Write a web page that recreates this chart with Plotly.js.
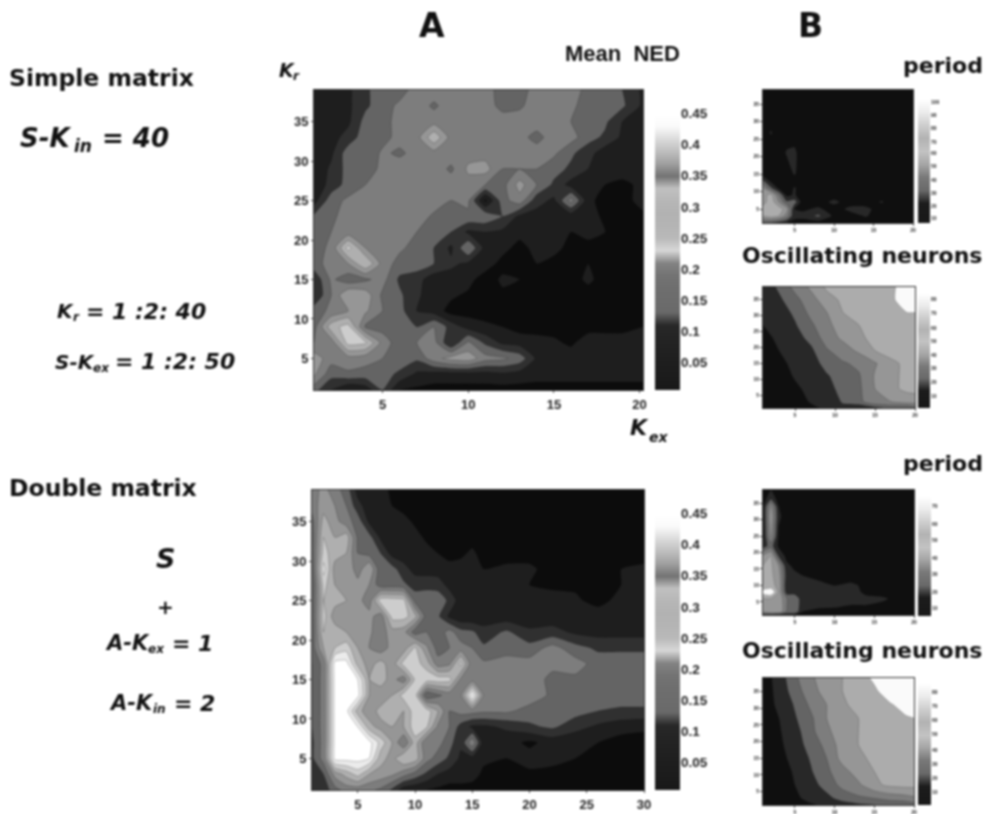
<!DOCTYPE html>
<html><head><meta charset="utf-8">
<script src="https://cdn.plot.ly/plotly-3.0.1.min.js"></script>
<style>html,body{margin:0;padding:0;background:#fff}#g{width:991px;height:814px;filter:blur(0.9px)}</style>
</head><body><div id="g"></div>
<script>
// ---------- data (values in hundredths for NED, percent-like for panel B) ----------
const simpleX=[1,2,3,4,5,6,7,8,9,10,11,12,13,14,15,16,17,18,19,20.2];
const rowsY=[39,37,35,33,31,29,27,25,23,21,19,17,15,13,11,9,7,5,3,1];
const simpleNed=[
[6,9,9,14,18,18,22,23,23,23,23,17,17,23,23,23,18,18,15,9],
[6,8,9,14,18,21,23,19,23,23,23,18,19,23,23,21,18,17,16,9],
[6,8,9,17,18,22,23,23,23,23,23,23,23,23,24,20,17,16,10,8],
[6,8,12,18,18,22,23,34,23,23,23,23,22,18,23,22,17,14,9,8],
[6,9,18,16,21,19,22,23,23,23,23,23,23,23,21,16,12,7,7,7],
[6,11,17,18,21,23,20,23,19,26,27,20,20,20,17,14,10,8,7,7],
[6,12,17,20,22,24,23,23,23,23,20,18,27,20,14,8,7,5,4,6],
[8,18,21,23,23,23,23,23,20,21,4,18,23,12,9,22,7,2,3,7],
[16,19,22,23,23,23,23,19,19,19,19,15,9,8,7,7,7,4,4,4],
[17,20,22,23,23,23,20,19,15,9,10,9,7,7,6,5,6,5,4,3],
[18,21,37,25,23,21,18,15,9,20,8,7,3,7,6,4,4,3,3,3],
[18,22,25,35,23,18,18,15,11,9,8,3,4,5,4,3,5,3,3,3],
[11,21,17,19,22,14,12,7,8,7,2,6,5,3,3,3,6,3,3,3],
[10,20,30,28,19,16,11,7,6,4,5,4,3,3,3,3,3,3,3,3],
[18,21,25,26,20,17,10,8,3,3,3,3,3,3,3,3,3,3,3,3],
[18,33,37,19,18,17,15,20,13,8,6,5,3,3,3,3,3,3,3,5],
[20,22,37,36,23,17,20,22,10,21,14,9,8,7,6,4,8,8,8,9],
[28,22,23,22,20,18,16,23,27,28,22,21,18,9,9,8,8,8,6,8],
[26,17,19,18,17,14,9,8,8,8,8,9,8,7,7,7,7,7,7,7],
[17,10,5,7,15,5,4,3,3,3,3,3,3,3,3,3,3,3,3,3]];

const doubleX=[1,2,3,4,5,6,7,8,9,10,11,12,13,14,15,16,18,20,22,24,26,28,30];
const doubleNed=[
[22,27,22,18,8,7,7,4,3,3,3,3,3,3,3,3,3,3,3,3,3,3,3],
[22,28,25,20,12,7,6,5,3,3,3,3,3,3,3,3,3,3,3,3,3,3,3],
[18,32,27,22,18,9,7,7,7,4,4,3,3,3,3,3,3,3,3,3,3,3,3],
[17,35,30,33,19,17,9,7,7,7,4,3,3,3,3,3,3,3,3,3,3,3,3],
[17,37,32,30,20,18,15,8,7,7,7,5,3,4,6,3,3,3,3,3,4,3,3],
[16,42,28,30,22,30,16,17,12,8,7,7,7,7,7,5,6,6,3,3,5,5,6],
[15,37,30,28,27,25,17,17,16,13,14,13,8,7,7,7,6,5,4,4,4,5,7],
[16,35,32,30,27,22,38,38,37,18,17,18,14,7,7,7,7,7,7,6,3,7,8],
[16,37,27,30,28,27,22,37,37,32,17,16,9,6,6,7,7,7,7,7,8,8,8],
[16,35,33,30,28,26,22,28,27,17,20,17,22,17,16,12,16,11,12,9,8,8,8],
[17,30,35,38,30,25,22,27,27,36,26,18,20,22,20,16,18,17,22,17,14,14,14],
[15,22,47,47,33,28,32,27,37,37,33,22,24,37,21,21,22,22,22,22,18,18,18],
[15,22,47,47,45,30,33,27,22,36,38,38,37,24,22,21,24,24,18,19,19,18,18],
[15,22,47,47,47,30,26,30,37,38,15,19,22,24,46,24,24,23,19,19,18,18,18],
[15,22,47,47,32,27,32,32,30,38,38,30,20,22,22,21,21,18,18,17,15,14,14],
[15,22,47,47,45,32,28,30,30,38,36,24,20,13,9,9,11,14,16,12,9,7,6],
[14,22,47,47,47,47,38,30,20,33,20,22,17,11,24,7,7,4,7,6,5,3,3],
[14,22,47,47,47,45,32,28,35,33,22,18,14,9,8,6,5,7,7,5,5,4,3],
[12,15,27,32,37,30,28,26,22,18,14,10,8,8,7,4,3,4,3,3,3,3,3],
[10,12,18,22,22,21,19,14,7,6,5,4,3,3,3,3,3,3,3,3,3,3,3]];

const periodX=[1,2,3,4,5,6,8,10,12,14,16,18,20];
const simplePeriodY=[39,34,29,27,21,15,13,11,9,7,5,3,1];
const simplePeriod=[
[5,5,5,5,5,5,5,5,5,5,5,5,5],
[5,5,5,5,5,5,5,5,5,5,5,5,5],
[5,5,5,5,5,5,5,5,5,5,5,5,5],
[5,11,5,5,5,5,5,5,5,5,5,5,5],
[5,5,5,11,12,5,5,5,5,5,5,5,5],
[5,5,5,5,11,5,5,5,5,5,5,5,5],
[22,8,5,5,5,5,5,5,5,5,5,5,5],
[40,22,8,5,11,5,5,5,5,5,5,5,5],
[45,55,30,8,11,5,5,5,5,5,5,5,5],
[45,57,40,22,25,5,5,13,5,5,11,5,5],
[55,58,56,45,10,8,12,5,13,13,5,5,5],
[50,55,50,35,12,14,22,8,5,11,5,5,5],
[20,20,15,10,8,5,5,5,5,5,5,5,5]];

const oscX=[1,3,5,7,9,11,13,15,17,19,20];
const oscY=[39,35,31,27,23,19,15,11,7,3,1];
const simpleOsc=[
[13,22,33,42,52,55,55,56,58,65,68],
[12,18,27,36,46,52,55,56,58,66,68],
[11,15,22,33,40,50,54,56,58,60,60],
[10,13,19,28,38,44,50,54,57,58,58],
[7,12,16,23,35,42,48,53,56,57,58],
[4,10,14,18,29,35,42,50,55,57,58],
[3,7,13,15,24,29,32,39,47,53,56],
[3,5,11,14,19,25,29,41,46,54,55],
[3,3,8,13,16,24,28,40,48,52,53],
[3,3,5,11,14,21,27,38,40,45,45],
[3,3,3,8,12,18,12,18,22,20,25]];

const doublePeriodY=[39,37,34,31,28,25,22,19,16,13,10,8,6,4,2,1];
const doublePeriod=[
[8,10,7,5,5,5,5,5,5,5,5,5,5],
[8,12,8,5,5,5,5,5,5,5,5,5,5],
[8,42,10,5,5,5,5,5,5,5,5,5,5],
[8,48,12,5,5,5,5,5,5,5,5,5,5],
[8,45,10,5,5,5,5,5,5,5,5,5,5],
[8,42,8,5,5,5,5,5,5,5,5,5,5],
[15,25,8,5,5,5,5,5,5,5,5,5,5],
[42,50,18,7,5,5,5,5,5,5,5,5,5],
[50,52,40,12,8,5,5,5,5,5,5,5,5],
[50,52,45,15,12,10,8,5,5,5,5,5,5],
[50,52,48,12,12,12,12,10,12,8,5,5,5],
[65,70,48,14,14,12,12,12,14,8,5,5,5],
[50,50,48,30,30,12,12,12,13,12,12,7,5],
[50,50,50,30,30,12,12,12,10,10,8,5,5],
[42,50,50,28,28,10,8,7,5,5,5,5,5],
[15,15,12,10,10,7,5,5,5,5,5,5,5]];

const doubleOsc=[
[5,14,28,38,46,50,55,62,68,68,68],
[5,13,25,36,44,50,55,58,66,68,68],
[5,12,21,32,40,48,54,58,59,64,68],
[5,10,19,28,40,45,50,55,58,59,60],
[5,9,16,27,38,45,50,54,57,58,58],
[4,8,15,24,33,45,50,53,55,56,57],
[4,7,13,21,30,44,48,52,55,56,57],
[4,6,11,19,28,36,45,50,54,55,56],
[3,5,10,16,24,33,38,48,52,53,53],
[3,4,8,13,17,24,28,30,34,36,38],
[3,3,6,9,12,15,18,20,22,22,25]];

const nedBands=[12,30,48,100,125,150,175,205,235,255];
const sideBands=[15,40,100,125,150,172,250];
const nedBarValues=[.01,.03,.05,.07,.09,.11,.13,.15,.17,.19,.21,.23,.25,.27,.29,.31,.33,.35,.37,.39,.41,.43,.45,.47,.49];
const nedBarShades=[25,28,30,33,36,40,105,108,110,115,130,215,185,180,178,182,192,115,160,190,220,250,255,255,255];
const sideBarValues=[5,15,25,35,45,55,65,75,85,95];
const sideBarShades=[25,28,105,120,165,195,178,205,235,255];
const nedTicks=[.05,.1,.15,.2,.25,.3,.35,.4,.45];
const nedTickText=['0.05','0.1','0.15','0.2','0.25','0.3','0.35','0.4','0.45'];
const axisTicks=[5,10,15,20,25,30,35];

// ---------- helpers ----------
const FONT='"Liberation Sans",Arial,sans-serif';
const WIDE='"DejaVu Sans",Verdana,sans-serif';
const W=991,H=814;
const dx=(a,b)=>[a/W,b/W], dy=(t,b)=>[1-b/H,1-t/H];
const grey=v=>`rgb(${v},${v},${v})`;
const bandScale=b=>b.map((v,i)=>[i/(b.length-1),grey(v)]);
const pct=m=>m.map(r=>r.map(v=>v/100));

const traces=[],layout={width:W,height:H,margin:{l:0,r:0,t:0,b:0},paper_bgcolor:'#fff',plot_bgcolor:'#fff',showlegend:false,annotations:[]};
let n=0;
function contour(x,y,z,box,start,size,end,bands,xr,yr,xt,yt,fs,lw){
  n++;const s=n===1?'':n;
  traces.push({type:'contour',x:x,y:y,z:z,xaxis:'x'+s,yaxis:'y'+s,showscale:false,hoverinfo:'skip',
    autocontour:false,contours:{start:start,size:size,end:end,coloring:'fill',showlines:true},
    colorscale:bandScale(bands),line:{color:'rgba(15,15,15,0.4)',width:lw,smoothing:0.5}});
  const tf={family:FONT,size:fs,color:'#222',weight:'bold'};
  layout['xaxis'+s]={domain:dx(box[0],box[1]),range:xr,anchor:'y'+s,tickvals:xt,ticks:'outside',ticklen:2,tickwidth:1,tickcolor:'#444',tickfont:tf,showgrid:false,zeroline:false,showline:true,linecolor:'#333',linewidth:1,mirror:true,automargin:false};
  layout['yaxis'+s]={domain:dy(box[2],box[3]),range:yr,anchor:'x'+s,tickvals:yt,ticks:'outside',ticklen:2,tickwidth:1,tickcolor:'#444',tickfont:tf,showgrid:false,zeroline:false,showline:true,linecolor:'#333',linewidth:1,mirror:true,automargin:false};
}
function bar(vals,shades,box,yr,tv,tt,fs){
  n++;const s=n===1?'':n;
  traces.push({type:'heatmap',x:[0,1],y:vals,z:shades.map(v=>[v,v]),xaxis:'x'+s,yaxis:'y'+s,showscale:false,hoverinfo:'skip',zmin:0,zmax:255,zsmooth:'best',
    colorscale:[[0,'#000'],[1,'#fff']]});
  layout['xaxis'+s]={domain:dx(box[0],box[1]),range:[0,1],anchor:'y'+s,visible:false};
  layout['yaxis'+s]={domain:dy(box[2],box[3]),range:yr,anchor:'x'+s,side:'right',tickvals:tv,ticktext:tt,ticks:'',tickfont:{family:FONT,size:fs,color:'#222',weight:'bold'},showgrid:false,zeroline:false,showline:false,automargin:false};
}
function label(t,x,y,size,anchor,family){
  layout.annotations.push({text:t,x:x/W,y:1-y/H,xref:'paper',yref:'paper',showarrow:false,xanchor:anchor||'left',yanchor:'middle',font:{family:family||WIDE,size:size,color:'#111'}});
}

// main panels
contour(simpleX,rowsY,pct(simpleNed),[314,643,90,390],.05,.05,.451,nedBands,[1,20.2],[1,39],[5,10,15,20],axisTicks.slice(0,7),13,0.6);
contour(doubleX,rowsY,pct(doubleNed),[312,644,490,790],.05,.05,.451,nedBands,[1,30],[1,39],[5,10,15,20,25,30],axisTicks.slice(0,7),13,0.6);
bar(nedBarValues,nedBarShades,[655,680,90,390],[.005,.488],nedTicks,nedTickText,13.5);
bar(nedBarValues,nedBarShades,[655,680,490,790],[.005,.488],nedTicks,nedTickText,13.5);
// side panels
const sideX=[5,10,15,20], sideY=[5,10,15,20,25,30,35];
contour(periodX,simplePeriodY,simplePeriod,[763,913,90,223],10,10,60.1,sideBands,[1,20],[1,39],sideX,sideY,5,0.4);
contour(oscX,oscY,simpleOsc,[763,915,287,408],10,10,60.1,sideBands,[1,20],[1,39],sideX,sideY,5,0.5);
contour(periodX,doublePeriodY,doublePeriod,[763,914,490,615],10,10,60.1,sideBands,[1,20],[1,39],sideX,sideY,5,0.4);
contour(oscX,oscY,doubleOsc,[763,914,678,805],10,10,60.1,sideBands,[1,20],[1,39],sideX,sideY,5,0.5);
const t10=['10','20','30','40','50','60','70','80','90','100'];
bar(sideBarValues,sideBarShades,[918,930,92,223],[0,100],[4,13,23,33,43,53,62,72,82,92],t10,5);
bar(sideBarValues,sideBarShades,[918,930,287,408],[0,100],[10,21,33,44,55,66,78,90],t10,5);
bar(sideBarValues,sideBarShades,[918,931,490,616],[0,100],[6,19,33,46,60,73,87],t10,5);
bar(sideBarValues,sideBarShades,[918,931,677,805],[0,100],[10,21,32,43,55,66,77,88],t10,5);

// text
label('<b>A</b>',432,26,33,'center');
label('<b>B</b>',810,26,33,'center');
label('<b>Mean  NED</b>',622,53,22,'center',FONT);
label('<b>Simple matrix</b>',7,78,23.5);
label('<b>Double matrix</b>',7,488,23.5);
label('<b>period</b>',985,65,22,'right');
label('<b>period</b>',985,463,22,'right');
label('<b>Oscillating neurons</b>',740,255,22);
label('<b>Oscillating neurons</b>',740,650,22);
label('<b><i>S-K</i></b>',18,138,26);
label('<b><i>in</i></b>',72,146,17);
label('<b><i>= 40</i></b>',100,138,26);
label('<b><i>K</i></b>',277,70,19);
label('<b><i>r</i></b>',291,76,12);
label('<b><i>K</i></b>',55,311,20);
label('<b><i>r</i></b>',71,317,12);
label('<b><i>= 1 :2: 40</i></b>',84,311,22);
label('<b><i>S-K</i></b>',53,362,20);
label('<b><i>ex</i></b>',91,368,12);
label('<b><i>= 1 :2: 50</i></b>',113,362,22);
label('<b><i>K</i></b>',628,427,22);
label('<b><i>ex</i></b>',647,437,14);
label('<b><i>S</i></b>',165,558,27,'center');
label('<b>+</b>',165,607,20,'center');
label('<b><i>A-K</i></b>',103,643,21);
label('<b><i>ex</i></b>',146,649,12);
label('<b><i>= 1</i></b>',170,643,22);
label('<b><i>A-K</i></b>',107,703,21);
label('<b><i>in</i></b>',151,709,12);
label('<b><i>= 2</i></b>',172,703,22);

Plotly.newPlot('g',traces,layout,{staticPlot:true,displayModeBar:false});
</script></body></html>
